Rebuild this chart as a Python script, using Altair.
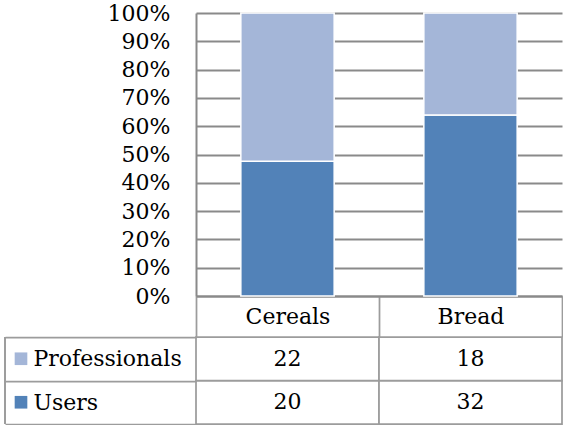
import altair as alt
import pandas as pd

# ---- data ----
categories = ["Cereals", "Bread"]
series = ["Professionals", "Users"]
professionals = [22, 18]
users = [20, 32]
y_ticks = [0, 0.1, 0.2, 0.3, 0.4, 0.5, 0.6, 0.7, 0.8, 0.9, 1.0]

rows = []
for i, c in enumerate(categories):
    rows.append({"category": c, "series": "Users", "value": users[i], "order": 0})
    rows.append({"category": c, "series": "Professionals", "value": professionals[i], "order": 1})
df = pd.DataFrame(rows)
ldf = pd.DataFrame({"series": series})

# ---- style ----
DARK = "#5282B8"
LIGHT = "#A4B6D8"
GRID = "#8A8A8A"
BORDER = "#9C9C9C"
FONT = "DejaVu Serif"
FS = 22
LEFT_COL = 191
HEADER_H = 41

color_scale = alt.Scale(domain=["Professionals", "Users"], range=[LIGHT, DARK])

bars = alt.Chart(df).mark_bar(
    width=alt.RelativeBandSize(0.51), stroke="white", strokeWidth=1.5
).encode(
    x=alt.X(
        "category:N", sort=categories, title=None,
        scale=alt.Scale(paddingInner=0, paddingOuter=0),
        axis=alt.Axis(
            labelAngle=0, domain=True, domainColor=GRID, domainWidth=2,
            ticks=True, tickSize=HEADER_H, tickColor=BORDER, tickWidth=1.75,
            tickBand="extent",
            labelPadding=-20.5, labelBaseline="middle", grid=False,
        ),
    ),
    y=alt.Y(
        "value:Q", stack="normalize", title=None,
        scale=alt.Scale(domain=[0, 1], nice=False),
        axis=alt.Axis(
            values=y_ticks, format=".0%", grid=True, gridColor=GRID, gridWidth=2,
            ticks=False, domain=True, domainColor=GRID, domainWidth=2,
            labelPadding=26, minExtent=LEFT_COL,
        ),
    ),
    color=alt.Color("series:N", scale=color_scale, legend=None),
    order=alt.Order("order:Q", sort="ascending"),
).properties(width=366, height=283)

# ---- data table under the plot ----
ybase = alt.Y(
    "series:N", sort=series, title=None,
    scale=alt.Scale(paddingInner=0, paddingOuter=0),
    axis=alt.Axis(
        orient="left", domain=False, ticks=True, tickBand="extent",
        tickSize=LEFT_COL, tickColor=BORDER, tickWidth=1.75,
        labelAlign="left", labelBaseline="middle", labelPadding=-28,
        minExtent=LEFT_COL, grid=False,
    ),
)

vx = alt.X("category:N", sort=categories, axis=None,
           scale=alt.Scale(paddingInner=0, paddingOuter=0))

val_cells = alt.Chart(df).mark_rect(fill="white", stroke=BORDER, strokeWidth=1.75).encode(
    x=vx, y=ybase
)
val_txt = alt.Chart(df).mark_text(
    align="center", baseline="middle", font=FONT, fontSize=FS, color="black"
).encode(x=vx, y=ybase, text="value:Q")
legend_sq = alt.Chart(ldf).mark_square(size=160, opacity=1).encode(
    y=ybase, x=alt.value(-LEFT_COL + 16),
    color=alt.Color("series:N", scale=color_scale, legend=None),
)
left_border = alt.Chart(ldf).mark_rule(color=BORDER, strokeWidth=1.75).encode(
    x=alt.value(-LEFT_COL)
)
table = alt.layer(val_cells, val_txt, legend_sq, left_border).properties(width=366, height=87)

chart = alt.vconcat(bars, table, spacing=HEADER_H, bounds="flush").resolve_scale(
    x="independent", y="independent"
).properties(
    padding={"left": 4, "top": 2, "right": 0, "bottom": 0}
).configure_view(stroke=None).configure_axis(
    labelFont=FONT, labelFontSize=FS, labelColor="black"
)

chart.save("out.html", embed_options={"renderer": "svg", "actions": False})
